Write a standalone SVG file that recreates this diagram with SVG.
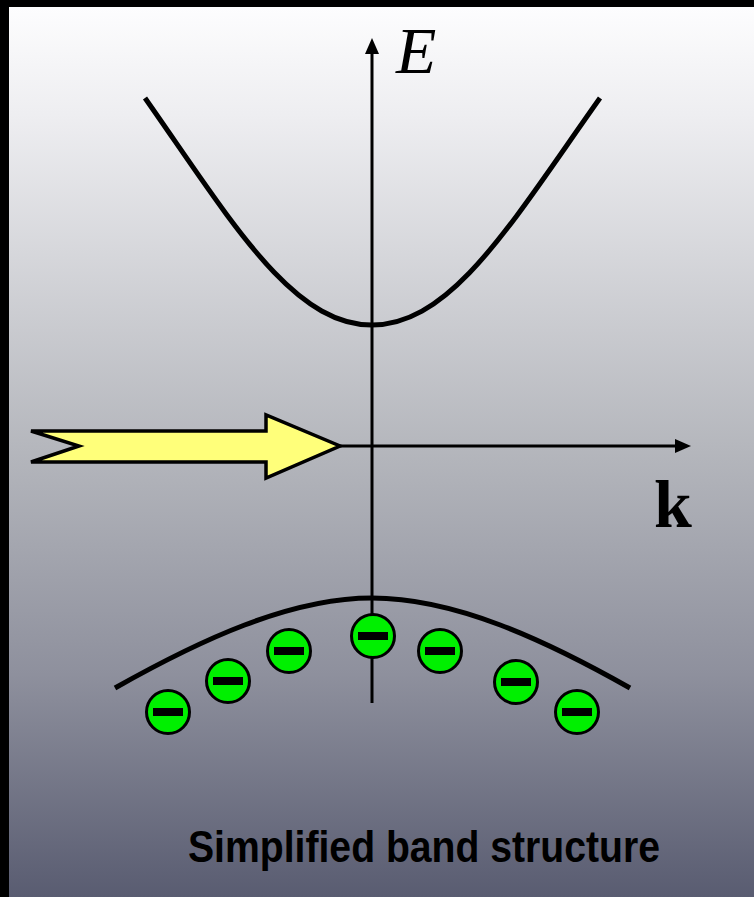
<svg xmlns="http://www.w3.org/2000/svg" width="754" height="897" viewBox="0 0 754 897">
<defs>
<linearGradient id="bg" x1="0" y1="7" x2="0" y2="897" gradientUnits="userSpaceOnUse">
<stop offset="0" stop-color="#fdfdfe"/>
<stop offset="0.12" stop-color="#eeeef1"/>
<stop offset="0.5" stop-color="#b4b6bc"/>
<stop offset="0.75" stop-color="#8e909d"/>
<stop offset="1" stop-color="#595c71"/>
</linearGradient>
<g id="electron">
<circle cx="0" cy="0" r="21.5" class="e"/>
<rect x="-15" y="-4" width="30" height="8" fill="#000"/>
</g>
</defs>
<style>
.curve{fill:none;stroke:#000;stroke-width:5}
.axis{fill:none;stroke:#000;stroke-width:3}
.e{fill:#00f000;stroke:#000;stroke-width:3}
</style>
<rect x="0" y="0" width="754" height="897" fill="#000"/>
<rect x="9" y="7" width="745" height="890" fill="url(#bg)"/>
<g id="connectors">
<path id="conduction-band" class="curve" d="M145,98 C232,222 292,325 372,325 C452,325 512,222 600,98"/>
<path id="valence-band" class="curve" d="M115,688 C200,640 290,598 372,598 C455,598 545,640 630,688"/>
<line id="E-axis" class="axis" x1="372" y1="703" x2="372" y2="50"/>
<polygon points="372,38 365,54 379,54" fill="#000"/>
<line id="k-axis" class="axis" x1="340" y1="446" x2="678" y2="446"/>
<polygon points="691,446 675,439 675,453" fill="#000"/>
</g>
<g id="incoming-arrow">
<polygon points="31,431 266,431 266,415 340,446 266,478 266,462 31,462 79,446" fill="#ffff7a" stroke="#000" stroke-width="3.5" stroke-linejoin="miter"/>
</g>
<g id="electrons">
<use href="#electron" x="168" y="712"/>
<use href="#electron" x="228" y="681"/>
<use href="#electron" x="289" y="651"/>
<use href="#electron" x="373" y="636"/>
<use href="#electron" x="440" y="651"/>
<use href="#electron" x="516" y="682"/>
<use href="#electron" x="577" y="712"/>
</g>
<g id="label-E"><text x="396" y="73" font-family="'Liberation Serif', serif" font-style="italic" font-size="66">E</text></g>
<g id="label-k"><text x="654" y="527" font-family="'Liberation Serif', serif" font-weight="bold" font-size="68">k</text></g>
<g id="caption"><text x="188" y="862" font-family="'Liberation Sans', Arial, sans-serif" font-weight="bold" font-size="45" textLength="472" lengthAdjust="spacingAndGlyphs">Simplified band structure</text></g>
</svg>
